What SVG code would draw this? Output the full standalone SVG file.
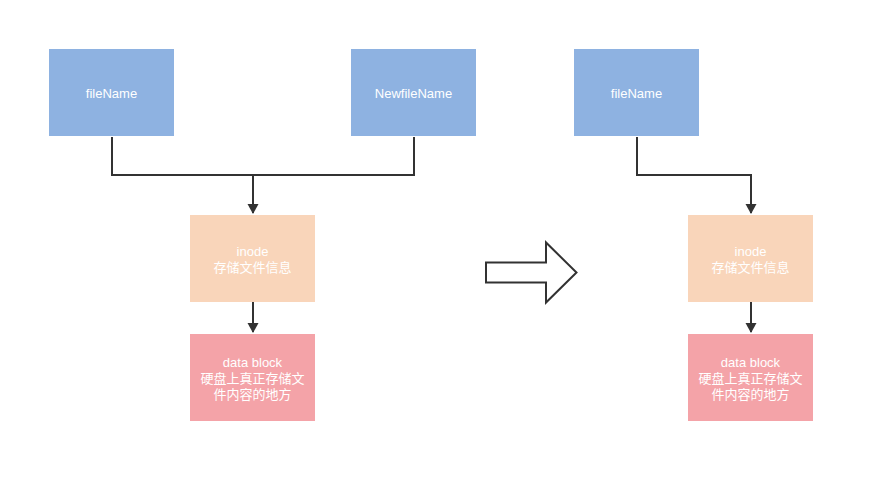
<svg xmlns="http://www.w3.org/2000/svg" width="876" height="484" viewBox="0 0 876 484">
<style>
.blue{fill:#8EB2E1}
.peach{fill:#F9D5BA}
.pink{fill:#F4A3A8}
text{font-family:"Liberation Sans","Noto Sans CJK SC",sans-serif;font-size:13px;fill:#fff;text-anchor:middle}
.conn{fill:none;stroke:#323232;stroke-width:2}
</style>
<defs>
<marker id="ah" markerWidth="10" markerHeight="12" refX="9" refY="6" orient="auto" markerUnits="userSpaceOnUse">
<path d="M0,0.5 L10,6 L0,11.5 Z" fill="#323232"/>
</marker>
</defs>
<rect width="876" height="484" fill="#fff"/>
<g id="fileName1"><rect class="blue" x="49" y="49" width="125" height="87"/><text x="111.5" y="97.5">fileName</text></g>
<g id="newfileName"><rect class="blue" x="351" y="49" width="125" height="87"/><text x="413.5" y="97.5">NewfileName</text></g>
<g id="inode1"><rect class="peach" x="190" y="215" width="125" height="87"/><text x="252.5" y="256">inode</text><text x="252.5" y="272">存储文件信息</text></g>
<g id="data1"><rect class="pink" x="190" y="334" width="125" height="87"/><text x="252.5" y="367">data block</text><text x="252.5" y="383">硬盘上真正存储文</text><text x="252.5" y="399">件内容的地方</text></g>
<g id="fileName2"><rect class="blue" x="574" y="49" width="125" height="87"/><text x="636.5" y="97.5">fileName</text></g>
<g id="inode2"><rect class="peach" x="688" y="215" width="125" height="87"/><text x="750.5" y="256">inode</text><text x="750.5" y="272">存储文件信息</text></g>
<g id="data2"><rect class="pink" x="688" y="334" width="125" height="87"/><text x="750.5" y="367">data block</text><text x="750.5" y="383">硬盘上真正存储文</text><text x="750.5" y="399">件内容的地方</text></g>
<g id="bigArrow"><path d="M486,262.5 L546,262.5 L546,242.5 L576.5,272.5 L546,302.5 L546,282.5 L486,282.5 Z" fill="#fff" stroke="#323232" stroke-width="2"/></g>
<g id="connectors">
<path class="conn" d="M112,137 V175 H414 V137"/>
<path class="conn" d="M253,175 V213" marker-end="url(#ah)"/>
<path class="conn" d="M253,302 V332" marker-end="url(#ah)"/>
<path class="conn" d="M637,137 V175 H751 V213" marker-end="url(#ah)"/>
<path class="conn" d="M751,302 V332" marker-end="url(#ah)"/>
</g>
</svg>
